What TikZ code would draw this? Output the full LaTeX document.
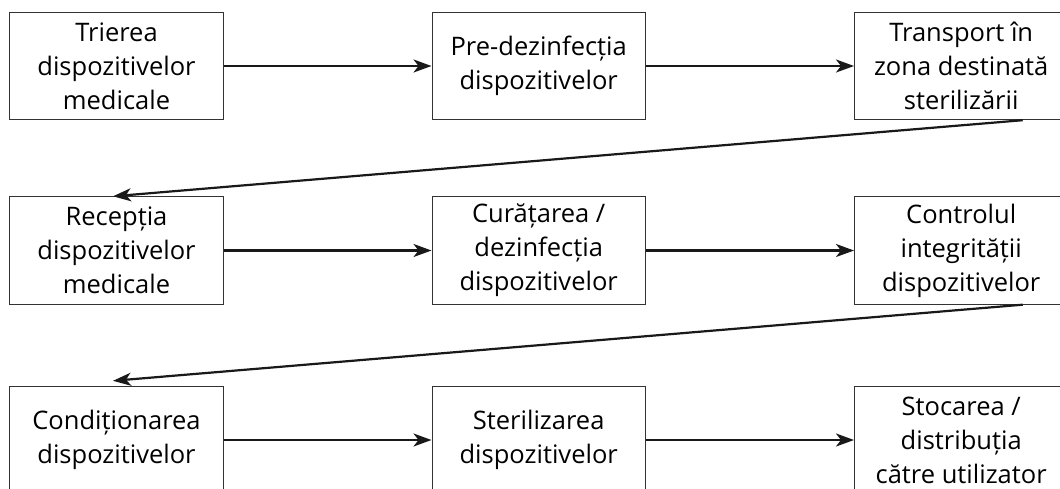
\documentclass[tikz,border=0pt]{standalone}
\usepackage{fontspec}
\setmainfont{Open Sans}
\usetikzlibrary{arrows.meta,calc}
\begin{document}
\begin{tikzpicture}[x=1pt,y=-1pt,
  box/.style={draw=black!80, line width=0.8pt, minimum width=213.6pt, minimum height=107.6pt,
    align=center, inner sep=2pt, font=\fontsize{25.5}{34}\selectfont, text=black},
  flow/.style={-{Stealth[length=18pt,width=13pt,inset=5pt]}, line width=2.2pt, draw=black!90}]
\useasboundingbox (0,0) rectangle (1060,488);
\fill[white] (0,0) rectangle (1060,488);
\node[box] (a1) at (116.5,66) {Trierea\\dispozitivelor\\medicale};
\node[box] (a2) at (538.7,66) {Pre-dezinfecția\\dispozitivelor};
\node[box] (a3) at (961.2,66) {Transport în\\zona destinată\\sterilizării};
\node[box] (b1) at (116.5,250.5) {Recepția\\dispozitivelor\\medicale};
\node[box] (b2) at (538.7,250.5) {Curățarea /\\dezinfecția\\dispozitivelor};
\node[box] (b3) at (961.2,250.5) {Controlul\\integrității\\dispozitivelor};
\node[box] (c1) at (116.5,440) {Condiționarea\\dispozitivelor};
\node[box] (c2) at (538.7,440) {Sterilizarea\\dispozitivelor};
\node[box] (c3) at (961.2,440) {Stocarea /\\distribuția\\către utilizator};
\draw[flow] (a1) -- (a2);
\draw[flow] (a2) -- (a3);
\draw[flow] (b1) -- (b2);
\draw[flow] (b2) -- (b3);
\draw[flow] (c1) -- (c2);
\draw[flow] (c2) -- (c3);
\coordinate (s1) at ($(a3.south)+(61.5,0)$);
\coordinate (e1) at ($(b1.north)+(-3.5,0)$);
\coordinate (s2) at ($(b3.south)+(61.5,0)$);
\coordinate (e2) at ($(c1.north)+(-3.5,-5)$);
\draw[flow] (s1) -- (e1);
\draw[flow] (s2) -- (e2);
\end{tikzpicture}
\end{document}
